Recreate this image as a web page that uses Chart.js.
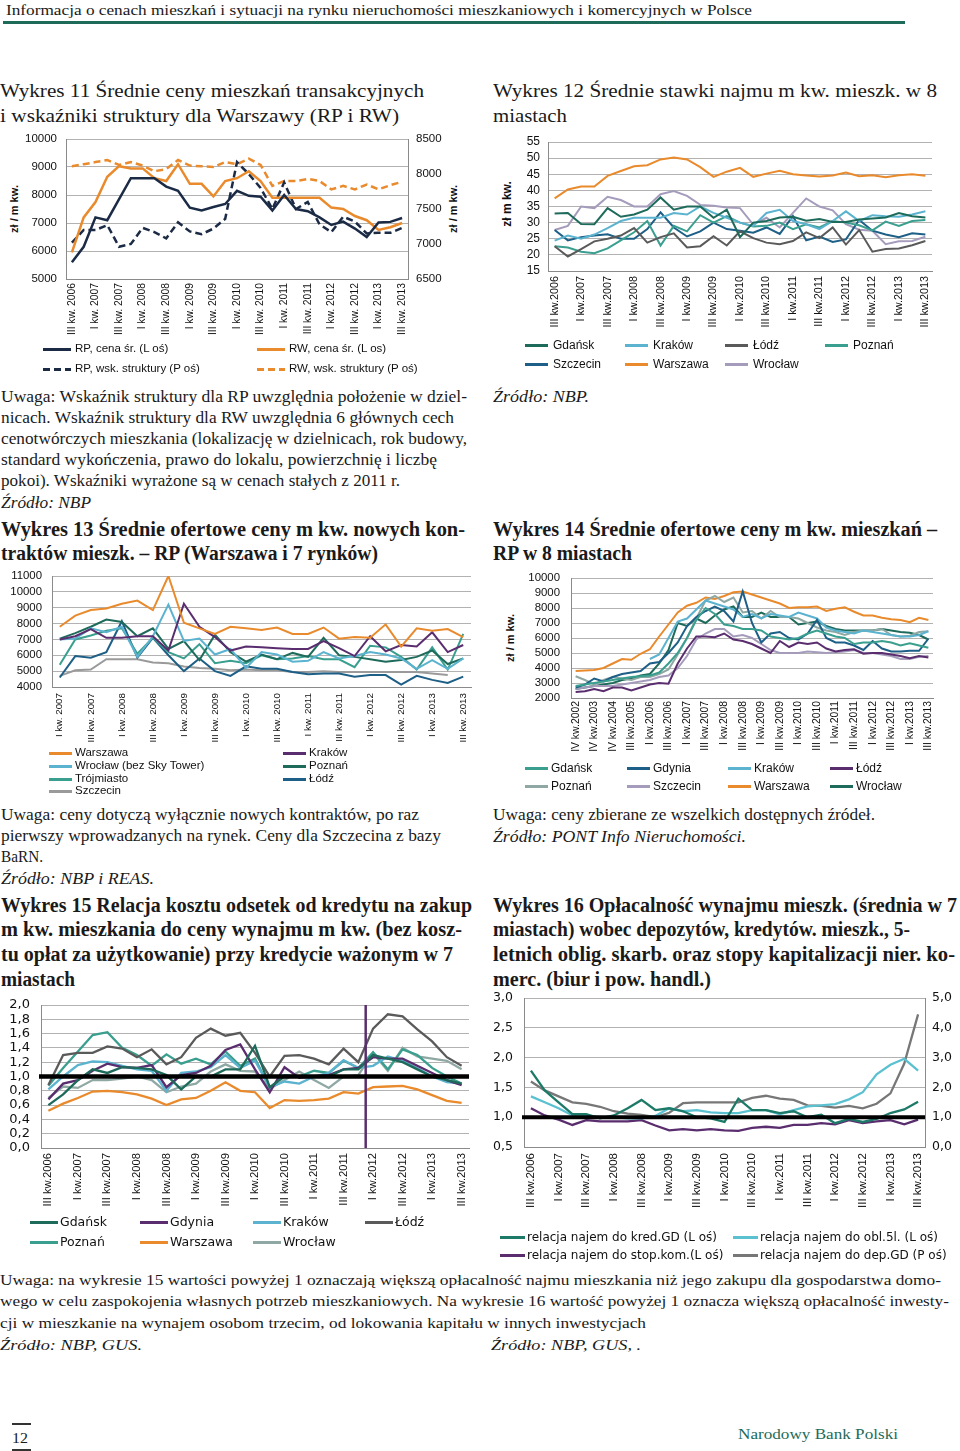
<!DOCTYPE html>
<html><head><meta charset="utf-8">
<script src="https://cdn.jsdelivr.net/npm/chart.js@4.4.1/dist/chart.umd.min.js"></script>
<style>
html,body{margin:0;padding:0;background:#fff;}
body{width:960px;height:1451px;position:relative;overflow:hidden;}
.t{position:absolute;white-space:nowrap;transform-origin:0 50%;color:#1a1a1a;font-family:"Liberation Serif","Times New Roman",serif;line-height:24px;height:24px;}
.hd{font-size:15px;}
.tc{font-size:19px;}
.tb{font-size:20px;font-weight:bold;}
.n{font-size:16.5px;}
.ni{font-size:16.5px;font-style:italic;}
.bn{font-size:15px;}
.bi{font-size:15px;font-style:italic;}
.ft{font-size:15px;color:#1e6b5a;}
canvas{position:absolute;}
.lg{position:absolute;white-space:nowrap;color:#111;}
.yt{position:absolute;white-space:nowrap;font-family:"Liberation Sans",Arial,sans-serif;font-weight:bold;color:#111;transform:translate(-50%,-50%) rotate(-90deg);}
.rule{position:absolute;}
</style></head><body>
<div class="rule" style="left:3px;top:21px;width:902px;height:2.5px;background:#1e6b5a"></div>
<div class="rule" style="left:12px;top:1423px;width:19px;height:1.5px;background:#333"></div>
<div class="rule" style="left:12px;top:1449px;width:19px;height:1.5px;background:#333"></div>
<script>
// ---------- DATA ----------
const Q29 = ['III kw.2006','IV kw.2006','I kw.2007','II kw.2007','III kw.2007','IV kw.2007','I kw.2008','II kw.2008','III kw.2008','IV kw.2008','I kw.2009','II kw.2009','III kw.2009','IV kw.2009','I kw.2010','II kw.2010','III kw.2010','IV kw.2010','I kw.2011','II kw.2011','III kw.2011','IV kw.2011','I kw.2012','II kw.2012','III kw.2012','IV kw.2012','I kw.2013','II kw.2013','III kw.2013'];
const labels11 = Q29.map(q => q.replace('kw.', 'kw. '));
const labels13 = Q29.slice(2).map(q => q.replace('kw.', 'kw. '));
const labels14 = ['IV kw.2002','II kw.2003','IV kw.2003','II kw.2004','IV kw.2004','II kw.2005','III kw.2005','IV kw.2005','I kw.2006','II kw.2006'].concat(Q29);

// Wykres 11
const rpCena = [5600,6150,7200,7100,7850,8600,8600,8600,8300,8150,7550,7450,7570,7680,8150,7970,7940,7450,8000,7500,7420,7200,6930,7050,6800,6500,7020,7040,7180];
const rwCena = [5950,7200,7750,8650,9030,8950,8950,8600,8500,9100,8400,8400,7950,8500,8600,8850,8500,7900,7900,7900,7900,7900,7550,7500,7250,7100,6750,6850,7000];
const rpWsk = [7020,7200,7200,7270,6960,7000,7230,7170,7080,7310,7180,7140,7220,7360,8170,8000,7800,7500,7880,7500,7600,7280,7170,7390,7320,7150,7160,7160,7230];
const rwWsk = [8110,8140,8170,8200,8130,8170,8120,8040,8070,8200,8120,8110,8100,8170,8140,8220,8130,7830,7900,7900,7930,7900,7780,7830,7780,7850,7780,7840,7890];

// Wykres 12
const gdansk12 = [32.8,33,29.6,29.5,34.5,31.8,32.5,34,37.8,34,35,35,31.5,34,25.5,30,30.5,31.6,31.8,30.6,31.1,30.2,30.2,31,31.3,31.6,33,32,31.6];
const krakow12 = [24.4,26,25,26.3,28.3,30.5,31.5,31.5,31.5,33,32.5,35,33,31.5,30,29,33,34,30.5,29.5,28,30.5,33.5,30.5,32.3,32,31.8,32.5,33.5];
const lodz12 = [22.7,19.5,21.8,24.2,25,26,28.3,23.8,25.5,26.7,22.3,22.7,25.8,22.9,27.3,25.2,23.8,23.3,24.3,27,25.2,28.5,23.2,27.7,21,21.8,22,23,24.3];
const poznan12 = [22.7,22.3,21,20.5,22,24.5,27,30.5,22.9,29,27.3,32.3,30,32,30,28.8,29,30,28,29.5,28.5,30.5,30,29.2,27.6,30.3,29,30.5,30.8];
const szczecin12 = [27.7,24.5,25.5,26,26.4,25,25,28,33.2,28.5,25.7,27.3,30,28,27.5,26.9,28.5,26.5,32,24.5,25.7,24,24.8,30.8,27.5,26.3,25.5,26.7,26.3];
const warszawa12 = [37.5,40.3,41.2,41.2,44.5,46,47.5,47.8,49.6,50.2,49.6,47.2,44.2,45.8,47,44.2,45.2,46.1,45,44.6,44.3,44.6,45.5,44.4,44.7,44.1,44.7,45,44.5];
const wroclaw12 = [27.7,29,35,34.5,38,37,35,35,38.8,39.8,38.3,35.5,35.2,34.7,34.5,29.4,31.5,28.5,33,37.5,35,33.8,29.5,27.8,27.5,23.3,24.2,24.3,25.6];

// Wykres 13
const warszawa13 = [7800,8500,8850,8950,9250,9450,8850,11000,8050,7700,7350,7800,7700,7600,7750,7350,7350,7750,7050,7150,7100,7950,6550,7700,7550,7650,7150];
const krakow13 = [7000,7200,7650,7100,7100,7200,7200,6300,9250,7800,7150,6300,6550,6500,6450,6400,6400,6900,6450,5950,7200,6250,6650,6550,7450,6200,6650];
const wroclaw13 = [7000,7050,7700,7450,7800,5900,7200,9200,6900,7050,6050,6400,5200,6200,6050,5600,5650,6200,5800,5950,6200,6050,5800,5150,5700,5150,5800];
const poznan13 = [7050,7400,7800,8250,8100,7200,7700,6400,6900,5700,7300,6200,5600,6050,5750,6150,5900,7100,6000,5900,5750,5600,5700,5900,6300,5450,5800];
const trojmiasto13 = [5400,7000,7250,7550,7700,6100,7100,6200,5800,6700,5500,5650,5500,6000,5750,5800,5950,5750,5750,5250,6600,6500,5900,5100,6500,5100,7350];
const lodz13 = [4600,5950,5850,6200,8150,5850,7100,6000,5000,5800,5000,4700,5300,5150,5150,4950,4800,4850,4850,4650,4750,4750,4150,4700,4450,4250,4650];
const szczecin13 = [4700,5050,5100,5750,5750,5750,5550,5500,5300,5200,5150,5050,5100,5050,5050,4950,4950,5000,4950,4950,4950,4950,4950,4950,4850,4750,null];

// Wykres 14
const gdansk14 = [2800,2900,3000,3100,3200,3300,3400,3450,3500,3700,4300,5000,6000,7200,8000,7600,6900,6800,6600,6600,6500,6100,6000,5900,6000,6300,6500,6300,6100,6000,5600,5700,5700,5800,5700,5500,5650,5500,5350];
const gdynia14 = [2700,2900,3300,3100,3400,3600,3700,3800,4300,4400,5000,5700,6800,7400,7800,8100,7800,7100,9100,7000,5700,6300,6400,6000,5900,6300,7200,6000,5700,5700,5500,5200,5800,5300,5100,5100,5150,5150,5950];
const krakow14 = [null,null,null,null,null,null,null,null,4600,4900,6000,7100,7300,7900,8500,8300,8100,7900,7400,7600,7300,7600,7500,7400,7700,7500,7300,6700,6500,6400,6300,6500,6400,6300,6200,6100,6100,6200,6450];
const lodz14 = [2400,2450,2600,2450,2700,2700,2500,2700,2900,3000,2950,4300,5300,6100,6100,6050,6300,5900,5800,5600,5300,5000,5800,5400,5700,5600,5700,5300,5100,5200,5250,4950,5000,5000,4900,4800,4650,4800,4700];
const poznan14 = [3450,3200,2900,3200,3400,3300,3200,3400,3400,3600,3900,4900,6000,7300,8500,8800,8400,8700,7700,7800,7300,7800,7400,7400,7300,7000,6700,6500,6400,6200,6400,6500,6500,6600,6200,6100,6150,6400,6450];
const szczecin14 = [2600,2700,2800,2800,2800,2900,3000,3100,3200,3400,3500,4000,4800,5900,6300,6600,6600,6100,6200,6000,5600,5200,5000,5000,5000,5100,5050,5000,5050,5100,5200,5000,5000,4900,4800,4600,4600,4750,4800];
const warszawa14 = [3800,3830,3870,4000,4300,4600,4550,4950,5250,6100,6900,7700,8150,8350,8700,8600,8800,9050,9100,8900,8700,8500,8300,8000,8050,8050,8100,7800,7950,8050,7750,7500,7500,7350,7250,7200,7050,7350,7200];
const wroclaw14 = [2600,2700,2800,2900,3000,3200,3300,3500,3600,4300,5200,7000,6800,7300,7000,7500,7900,8100,7400,7400,7700,7400,7400,7400,6900,7000,7100,6800,6600,6500,6500,6500,6500,6600,6500,6400,6350,6200,5900];

// Wykres 15
const gdansk15 = [0.6,0.75,0.95,1.1,1.05,1.13,1.12,1.1,1.02,0.82,1.0,1.0,1.1,1.1,1.43,0.85,1.0,1.0,1.0,1.0,1.1,1.1,1.3,1.25,1.2,1.1,1.0,0.95,0.9];
const gdynia15 = [0.68,0.9,0.95,1.08,1.18,1.13,1.12,1.16,0.85,1.02,1.05,1.15,1.37,1.45,1.1,0.78,1.13,0.98,1.0,1.02,1.1,1.12,1.27,1.25,1.25,1.15,1.05,0.95,0.88];
const krakow15 = [0.82,1.0,1.16,1.21,1.2,1.15,1.1,1.08,0.8,1.05,1.07,1.13,1.3,1.12,1.22,0.85,0.93,0.9,1.0,1.05,1.23,1.12,1.15,1.28,1.22,1.12,1.0,0.92,0.9];
const lodz15 = [0.88,1.3,1.33,1.33,1.42,1.39,1.27,1.38,1.17,1.27,1.54,1.67,1.57,1.61,1.33,1.0,1.29,1.3,1.25,1.17,1.39,1.2,1.67,1.87,1.84,1.66,1.49,1.27,1.15];
const poznan15 = [0.87,1.12,1.35,1.58,1.62,1.4,1.3,1.15,1.31,1.18,1.25,1.17,1.35,1.15,1.25,0.84,1.02,1.0,1.08,1.05,1.22,1.12,1.34,1.1,1.38,1.3,1.12,1.0,0.9];
const warszawa15 = [0.52,0.62,0.7,0.79,0.8,0.78,0.75,0.69,0.6,0.68,0.7,0.8,0.92,0.8,0.78,0.56,0.67,0.66,0.67,0.69,0.78,0.76,0.85,0.86,0.87,0.82,0.74,0.66,0.63];
const wroclaw15 = [0.7,0.86,0.84,0.95,0.95,0.97,1.0,0.95,0.78,0.86,0.9,1.07,1.17,1.08,1.07,0.83,0.95,1.07,0.95,0.84,1.0,1.02,1.33,1.08,1.4,1.28,1.25,1.22,1.1];
const ref15 = [1.0];
const divider15 = ['IV kw.2011','I kw.2012'];

// Wykres 16
const kredGD = [1.78,1.45,1.25,1.05,1.05,0.98,1.03,1.15,1.29,1.12,1.15,1.1,1.0,0.98,0.92,1.31,1.12,1.12,1.07,1.1,1.0,1.04,0.9,0.97,0.92,0.97,1.07,1.13,1.26];
const obl5l = [1.35,1.25,1.15,1.03,1.03,1.0,1.0,0.98,0.98,1.02,1.15,1.1,1.12,1.08,1.07,1.07,1.12,1.12,1.05,1.12,1.18,1.2,1.22,1.3,1.42,1.72,1.88,1.98,1.78];
const stopKom = [1.15,1.03,0.96,0.87,0.95,0.93,0.93,0.93,0.95,0.86,0.78,0.8,0.78,0.8,0.78,0.77,0.82,0.84,0.82,0.87,0.87,0.9,0.88,0.95,0.9,0.93,0.95,0.88,0.96];
const depGD = [2.2,1.9,1.7,1.5,1.45,1.35,1.2,1.12,1.08,1.0,1.15,1.47,1.5,1.5,1.5,1.5,1.65,1.72,1.62,1.58,1.4,1.38,1.32,1.38,1.3,1.45,1.8,2.8,4.45];
const ref16 = [1.0];

// ---------- TEXT ----------
const TEXTS = [
 ['Informacja o cenach mieszkań i sytuacji na rynku nieruchomości mieszkaniowych i komercyjnych w Polsce', 6, 10, 746, 'hd'],
 ['Wykres 11 Średnie ceny mieszkań transakcyjnych', 0, 91, 424, 'tc'],
 ['i wskaźniki struktury dla Warszawy (RP i RW)', 0, 116, 399, 'tc'],
 ['Wykres 12 Średnie stawki najmu m kw. mieszk. w 8', 493, 91, 444, 'tc'],
 ['miastach', 493, 116, 74, 'tc'],
 ['Uwaga: Wskaźnik struktury dla RP uwzględnia położenie w dziel-', 1, 397, 466, 'n'],
 ['nicach. Wskaźnik struktury dla RW uwzględnia 6 głównych cech', 1, 418, 453, 'n'],
 ['cenotwórczych mieszkania (lokalizację w dzielnicach, rok budowy,', 1, 439, 466, 'n'],
 ['standard wykończenia, prawo do lokalu, powierzchnię i liczbę', 1, 460, 436, 'n'],
 ['pokoi). Wskaźniki wyrażone są w cenach stałych z 2011 r.', 1, 481, 399, 'n'],
 ['Źródło: NBP', 1, 503, 90, 'ni'],
 ['Wykres 13 Średnie ofertowe ceny m kw. nowych kon-', 1, 529, 464, 'tb'],
 ['traktów mieszk. – RP (Warszawa i 7 rynków)', 1, 553, 377, 'tb'],
 ['Źródło: NBP.', 493, 397, 96, 'ni'],
 ['Wykres 14 Średnie ofertowe ceny m kw. mieszkań –', 493, 529, 444, 'tb'],
 ['RP w 8 miastach', 493, 553, 139, 'tb'],
 ['Uwaga: ceny dotyczą wyłącznie nowych kontraktów, po raz', 1, 815, 418, 'n'],
 ['pierwszy wprowadzanych na rynek. Ceny dla Szczecina z bazy', 1, 836, 440, 'n'],
 ['BaRN.', 1, 857, 42, 'n'],
 ['Źródło: NBP i REAS.', 1, 879, 153, 'ni'],
 ['Wykres 15 Relacja kosztu odsetek od kredytu na zakup', 1, 905, 471, 'tb'],
 ['m kw. mieszkania do ceny wynajmu m kw. (bez kosz-', 1, 929, 461, 'tb'],
 ['tu opłat za użytkowanie) przy kredycie ważonym w 7', 1, 954, 452, 'tb'],
 ['miastach', 1, 979, 74, 'tb'],
 ['Uwaga: ceny zbierane ze wszelkich dostępnych źródeł.', 493, 815, 382, 'n'],
 ['Źródło: PONT Info Nieruchomości.', 493, 837, 253, 'ni'],
 ['Wykres 16 Opłacalność wynajmu mieszk. (średnia w 7', 493, 905, 464, 'tb'],
 ['miastach) wobec depozytów, kredytów. mieszk., 5-', 493, 929, 417, 'tb'],
 ['letnich oblig. skarb. oraz stopy kapitalizacji nier. ko-', 493, 954, 462, 'tb'],
 ['merc. (biur i pow. handl.)', 493, 979, 218, 'tb'],
 ['Uwaga: na wykresie 15 wartości powyżej 1 oznaczają większą opłacalność najmu mieszkania niż jego zakupu dla gospodarstwa domo-', 0, 1280, 941, 'bn'],
 ['wego w celu zaspokojenia własnych potrzeb mieszkaniowych. Na wykresie 16 wartość powyżej 1 oznacza większą opłacalność inwesty-', 0, 1301, 949, 'bn'],
 ['cji w mieszkanie na wynajem osobom trzecim, od lokowania kapitału w innych inwestycjach', 0, 1323, 646, 'bn'],
 ['Źródło: NBP, GUS.', 0, 1345, 142, 'bi'],
 ['Źródło: NBP, GUS, .', 491, 1345, 150, 'bi'],
 ['12', 12, 1438, 16, 'bn'],
 ['Narodowy Bank Polski', 738, 1434, 160, 'ft']
];
for (const [txt, x, cy, w, cls] of TEXTS) {
  const d = document.createElement('div');
  d.className = 't ' + cls; d.textContent = txt;
  d.style.left = x + 'px'; d.style.top = (cy - 12) + 'px';
  document.body.appendChild(d);
  const bw = d.getBoundingClientRect().width;
  d.style.transform = 'scaleX(' + (w / bw) + ')';
}
const YTITLES = [['zł / m kw.', 14, 209, 11], ['zł / m kw.', 453, 209, 11], ['zł m kw.', 507, 204, 12], ['zł / m kw.', 510, 638, 11]];
for (const [txt, cx, cy, fs] of YTITLES) {
  const d = document.createElement('div');
  d.className = 'yt'; d.textContent = txt;
  d.style.left = cx + 'px'; d.style.top = cy + 'px'; d.style.fontSize = fs + 'px';
  document.body.appendChild(d);
}

// ---------- CHARTS ----------
const SANS = '"Liberation Sans", Arial, sans-serif';
const DSANS = '"DejaVu Sans", sans-serif';
const GRID = '#b2b2b2', AXIS = '#8a8a8a', TXT = '#111';
const C = {navy:'#1c2b45', orange:'#e98a2c', dteal:'#1e6b5c', lblue:'#5bb3cf', dgray:'#5a5a5a', teal:'#3a9f8f', dblue:'#1d5f86', lav:'#a59cbc', purple:'#5a2d6e', gray:'#9a9a9a', sage:'#8fa8a3'};
Chart.defaults.font.family = SANS;
Chart.defaults.color = TXT;
const EXTRA = 22; // room below the x axis box for long rotated labels

const refLines = {
  id: 'refLines',
  afterDatasetsDraw(chart, args, o) {
    if (!o || o.h === undefined) return;
    const ctx = chart.ctx, a = chart.chartArea;
    ctx.save();
    if (o.v) {
      const xs = chart.scales.x;
      const i0 = chart.data.labels.indexOf(o.v[0]), i1 = chart.data.labels.indexOf(o.v[1]);
      const px = (xs.getPixelForValue(i0) + xs.getPixelForValue(i1)) / 2;
      ctx.strokeStyle = o.vColor; ctx.lineWidth = o.vWidth;
      ctx.beginPath(); ctx.moveTo(px, a.top); ctx.lineTo(px, a.bottom); ctx.stroke();
    }
    const py = chart.scales.y.getPixelForValue(o.h);
    ctx.strokeStyle = o.hColor; ctx.lineWidth = o.hWidth;
    ctx.beginPath(); ctx.moveTo(a.left - 2, py); ctx.lineTo(a.right, py); ctx.stroke();
    ctx.restore();
  }
};

function yAxis(a, pos, grid) {
  return {
    type: 'linear', position: pos, min: a.min, max: a.max,
    grid: {display: true, drawOnChartArea: grid, drawTicks: false, color: GRID, lineWidth: 1},
    border: {display: true, color: AXIS, width: 1},
    ticks: {stepSize: a.step, autoSkip: false, padding: a.pad, color: TXT, font: {family: a.family || SANS, size: a.size},
      callback: v => a.dec ? v.toFixed(1).replace('.', ',') : String(Math.round(v))},
    afterFit(s) { s.width = a.w; s.paddingTop = 0; s.paddingBottom = 0; }
  };
}

function makeLegend(series, L) {
  series.forEach((s, i) => {
    const c = i % L.cols.length, r = Math.floor(i / L.cols.length);
    const x = L.cols[c], y = L.rows[r];
    const ln = document.createElement('div');
    const bg = s.dash ? 'repeating-linear-gradient(to right,' + s.color + ' 0 7px,transparent 7px 11px)' : s.color;
    Object.assign(ln.style, {position: 'absolute', left: x + 'px', top: (y - 1.5) + 'px', width: L.len + 'px', height: '3px', background: bg});
    document.body.appendChild(ln);
    const tx = document.createElement('div');
    tx.className = 'lg'; tx.textContent = s.label;
    Object.assign(tx.style, {left: (x + L.off) + 'px', top: (y - L.size * 0.62) + 'px', fontSize: L.size + 'px', lineHeight: (L.size * 1.2) + 'px', fontFamily: L.family || SANS});
    document.body.appendChild(tx);
  });
}

function mk(cfg) {
  const {box, labels, series, y, y1, x, pad, ref, legend, lw} = cfg;
  const cv = document.createElement('canvas');
  const H = box.h + EXTRA;
  cv.width = box.w; cv.height = H;
  Object.assign(cv.style, {left: box.x + 'px', top: box.y + 'px', width: box.w + 'px', height: H + 'px'});
  document.body.appendChild(cv);
  const datasets = series.map(s => ({
    label: s.label, data: s.data, borderColor: s.color, backgroundColor: s.color,
    borderWidth: lw || 2, borderDash: s.dash ? [7, 4] : [], pointRadius: 0, pointHoverRadius: 0,
    tension: 0, fill: false, yAxisID: s.axis || 'y', spanGaps: false
  }));
  const scales = {
    x: {
      type: 'category', offset: true,
      grid: {display: false, drawTicks: false},
      border: {display: true, color: AXIS, width: 1},
      ticks: {autoSkip: false, minRotation: 90, maxRotation: 90, padding: x.pad, color: TXT,
        font: {family: x.family || SANS, size: x.size},
        callback(v, i) { return i % 2 === 0 ? this.getLabelForValue(v) : ''; }},
      afterFit(s) { s.height = x.h; s.paddingLeft = 0; s.paddingRight = 0; }
    },
    y: yAxis(y, 'left', true)
  };
  if (y1) scales.y1 = yAxis(y1, 'right', false);
  new Chart(cv, {
    type: 'line',
    data: {labels, datasets},
    options: {
      responsive: false, animation: false, devicePixelRatio: 1,
      layout: {padding: {left: 0, right: pad.r, top: pad.t, bottom: EXTRA}},
      plugins: {legend: {display: false}, tooltip: {enabled: false}, refLines: ref || {}},
      scales
    },
    plugins: [refLines]
  });
  makeLegend(series, legend);
}

// Wykres 11
mk({
  box: {x: 0, y: 130, w: 470, h: 210}, pad: {t: 9, r: 6}, lw: 2.5,
  labels: labels11,
  series: [
    {label: 'RP, cena śr. (L oś)', data: rpCena, color: C.navy},
    {label: 'RW, cena śr. (L os)', data: rwCena, color: C.orange},
    {label: 'RP, wsk. struktury (P oś)', data: rpWsk, color: C.navy, dash: true, axis: 'y1'},
    {label: 'RW, wsk. struktury (P oś)', data: rwWsk, color: C.orange, dash: true, axis: 'y1'}
  ],
  x: {h: 61, pad: 4, size: 10.3},
  y: {min: 5000, max: 10000, step: 1000, w: 66, pad: 9, size: 11.5},
  y1: {min: 6500, max: 8500, step: 500, w: 56, pad: 8, size: 11.5},
  legend: {cols: [43, 257], rows: [349, 369], len: 28, off: 32, size: 11.5}
});

// Wykres 12
mk({
  box: {x: 493, y: 132, w: 467, h: 199}, pad: {t: 10, r: 28},
  labels: Q29,
  series: [
    {label: 'Gdańsk', data: gdansk12, color: C.dteal},
    {label: 'Kraków', data: krakow12, color: C.lblue},
    {label: 'Łódź', data: lodz12, color: C.dgray},
    {label: 'Poznań', data: poznan12, color: C.teal},
    {label: 'Szczecin', data: szczecin12, color: C.dblue},
    {label: 'Warszawa', data: warszawa12, color: C.orange},
    {label: 'Wrocław', data: wroclaw12, color: C.lav}
  ],
  x: {h: 60, pad: 5, size: 10.8},
  y: {min: 15, max: 55, step: 5, w: 55, pad: 8, size: 12},
  legend: {cols: [525, 625, 725, 825], rows: [345, 364], len: 23, off: 28, size: 12}
});

// Wykres 13
mk({
  box: {x: 0, y: 566, w: 480, h: 181}, pad: {t: 10, r: 9},
  labels: labels13,
  series: [
    {label: 'Warszawa', data: warszawa13, color: C.orange},
    {label: 'Kraków', data: krakow13, color: C.purple},
    {label: 'Wrocław (bez Sky Tower)', data: wroclaw13, color: C.lblue},
    {label: 'Poznań', data: poznan13, color: C.dteal},
    {label: 'Trójmiasto', data: trojmiasto13, color: C.teal},
    {label: 'Łódź', data: lodz13, color: C.dblue},
    {label: 'Szczecin', data: szczecin13, color: C.gray}
  ],
  x: {h: 60, pad: 6, size: 9.8},
  y: {min: 4000, max: 11000, step: 1000, w: 52, pad: 10, size: 11.4},
  legend: {cols: [49, 283], rows: [753, 766, 779, 791], len: 23, off: 26, size: 11.5}
});

// Wykres 14
mk({
  box: {x: 493, y: 568, w: 467, h: 190}, pad: {t: 10, r: 27},
  labels: labels14,
  series: [
    {label: 'Gdańsk', data: gdansk14, color: C.teal},
    {label: 'Gdynia', data: gdynia14, color: C.dblue},
    {label: 'Kraków', data: krakow14, color: C.lblue},
    {label: 'Łódź', data: lodz14, color: C.purple},
    {label: 'Poznań', data: poznan14, color: C.sage},
    {label: 'Szczecin', data: szczecin14, color: C.lav},
    {label: 'Warszawa', data: warszawa14, color: C.orange},
    {label: 'Wrocław', data: wroclaw14, color: C.dteal}
  ],
  x: {h: 60, pad: 3, size: 10.4},
  y: {min: 2000, max: 10000, step: 1000, w: 78, pad: 11, size: 11.4},
  legend: {cols: [525, 627, 728, 830], rows: [768, 786], len: 23, off: 26, size: 12}
});

// Wykres 15
mk({
  box: {x: 0, y: 995, w: 480, h: 213}, pad: {t: 10, r: 11}, lw: 2.3,
  labels: Q29,
  series: [
    {label: 'Gdańsk', data: gdansk15, color: C.dteal},
    {label: 'Gdynia', data: gdynia15, color: C.purple},
    {label: 'Kraków', data: krakow15, color: C.lblue},
    {label: 'Łódź', data: lodz15, color: C.dgray},
    {label: 'Poznań', data: poznan15, color: C.teal},
    {label: 'Warszawa', data: warszawa15, color: C.orange},
    {label: 'Wrocław', data: wroclaw15, color: C.sage}
  ],
  x: {h: 60, pad: 5, size: 11.2},
  y: {min: 0, max: 2, step: 0.2, w: 41, pad: 11, size: 13, family: DSANS, dec: true},
  ref: {h: ref15[0], hColor: '#000', hWidth: 4.5, v: divider15, vColor: C.purple, vWidth: 2.5},
  legend: {cols: [30, 140, 253, 365], rows: [1222, 1242], len: 28, off: 30, size: 12.5, family: DSANS}
});

// Wykres 16
mk({
  box: {x: 490, y: 988, w: 470, h: 219}, pad: {t: 10, r: 0}, lw: 2.3,
  labels: Q29,
  series: [
    {label: 'relacja najem do kred.GD (L oś)', data: kredGD, color: '#1e7a68'},
    {label: 'relacja najem do obl.5l. (L oś)', data: obl5l, color: '#5bc0d0'},
    {label: 'relacja najem do stop.kom.(L oś)', data: stopKom, color: C.purple},
    {label: 'relacja najem do dep.GD (P oś)', data: depGD, color: '#777777', axis: 'y1'}
  ],
  x: {h: 60, pad: 6, size: 11.5},
  y: {min: 0.5, max: 3, step: 0.5, w: 34, pad: 11, size: 12.5, family: DSANS, dec: true},
  y1: {min: 0, max: 5, step: 1, w: 35, pad: 7, size: 12.5, family: DSANS, dec: true},
  ref: {h: ref16[0], hColor: '#000', hWidth: 4},
  legend: {cols: [500, 733], rows: [1237, 1255], len: 25, off: 27, size: 12, family: DSANS}
});
</script>
</body></html>
